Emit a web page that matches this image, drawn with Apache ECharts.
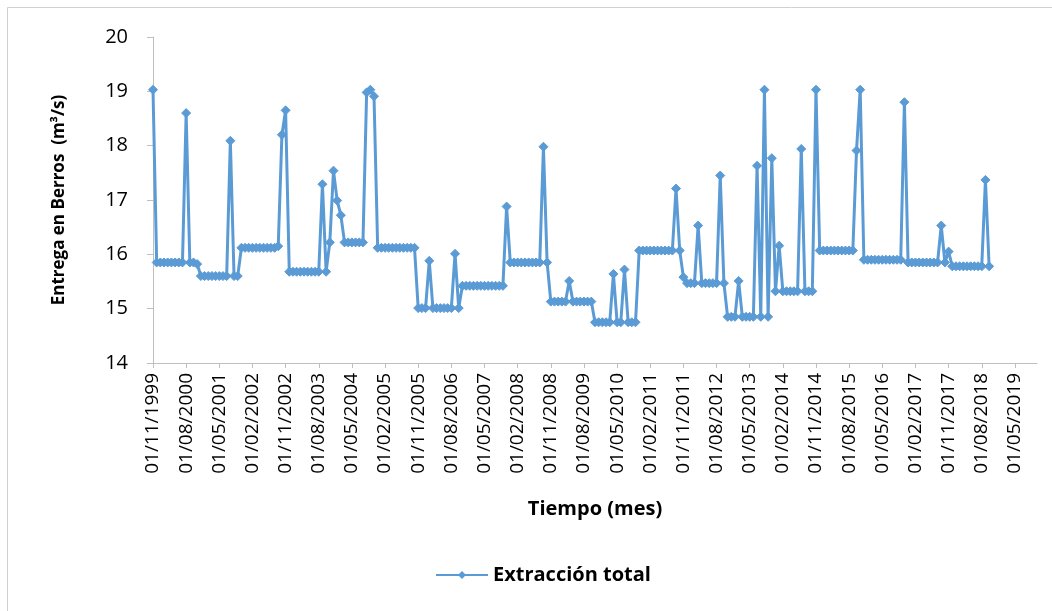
<!DOCTYPE html>
<html>
<head>
<meta charset="utf-8">
<title>Extracción total - Entrega en Berros</title>
<script src="https://cdn.jsdelivr.net/npm/echarts@6/dist/echarts.min.js"></script>
<style>
  html, body { margin: 0; padding: 0; background: #ffffff; }
  #chart { width: 1052px; height: 611px; }
</style>
</head>
<body>
<div id="chart"></div>
<script>
// Monthly axis: first month shown and number of months on the axis (Nov 1999 .. Nov 2019)
const primerMes = { anio: 1999, mes: 11 };
const mesesEje = 241;
// Every 9th month carries a tick and a date label
const pasoEtiquetas = 9;

// Y axis range (m3/s)
const ejeYMin = 14;
const ejeYMax = 20;
const ejeYPaso = 1;

// Extracción total, one value per month from Nov 1999; each row runs Nov..Oct
const extraccionTotal = [
  19.03, 15.85, 15.85, 15.85, 15.85, 15.85, 15.85, 15.85, 15.85, 18.60, 15.85, 15.85, // 1999-2000
  15.82, 15.60, 15.60, 15.60, 15.60, 15.60, 15.60, 15.60, 15.60, 18.09, 15.60, 15.60, // 2000-2001
  16.12, 16.12, 16.12, 16.12, 16.12, 16.12, 16.12, 16.12, 16.12, 16.12, 16.15, 18.20, // 2001-2002
  18.65, 15.68, 15.68, 15.68, 15.68, 15.68, 15.68, 15.68, 15.68, 15.68, 17.29, 15.68, // 2002-2003
  16.22, 17.54, 16.99, 16.72, 16.22, 16.22, 16.22, 16.22, 16.22, 16.22, 18.98, 19.03, // 2003-2004
  18.91, 16.12, 16.12, 16.12, 16.12, 16.12, 16.12, 16.12, 16.12, 16.12, 16.12, 16.12, // 2004-2005
  15.01, 15.01, 15.01, 15.88, 15.01, 15.01, 15.01, 15.01, 15.01, 15.01, 16.01, 15.01, // 2005-2006
  15.42, 15.42, 15.42, 15.42, 15.42, 15.42, 15.42, 15.42, 15.42, 15.42, 15.42, 15.42, // 2006-2007
  16.88, 15.85, 15.85, 15.85, 15.85, 15.85, 15.85, 15.85, 15.85, 15.85, 17.98, 15.85, // 2007-2008
  15.13, 15.13, 15.13, 15.13, 15.13, 15.51, 15.13, 15.13, 15.13, 15.13, 15.13, 15.13, // 2008-2009
  14.75, 14.75, 14.75, 14.75, 14.75, 15.64, 14.75, 14.75, 15.72, 14.75, 14.75, 14.75, // 2009-2010
  16.07, 16.07, 16.07, 16.07, 16.07, 16.07, 16.07, 16.07, 16.07, 16.07, 17.21, 16.07, // 2010-2011
  15.58, 15.47, 15.47, 15.47, 16.53, 15.47, 15.47, 15.47, 15.47, 15.47, 17.45, 15.47, // 2011-2012
  14.85, 14.85, 14.85, 15.51, 14.85, 14.85, 14.85, 14.85, 17.63, 14.85, 19.03, 14.85, // 2012-2013
  17.77, 15.32, 16.16, 15.32, 15.32, 15.32, 15.32, 15.32, 17.94, 15.32, 15.32, 15.32, // 2013-2014
  19.03, 16.07, 16.07, 16.07, 16.07, 16.07, 16.07, 16.07, 16.07, 16.07, 16.07, 17.91, // 2014-2015
  19.03, 15.90, 15.90, 15.90, 15.90, 15.90, 15.90, 15.90, 15.90, 15.90, 15.90, 15.90, // 2015-2016
  18.80, 15.85, 15.85, 15.85, 15.85, 15.85, 15.85, 15.85, 15.85, 15.85, 16.53, 15.85, // 2016-2017
  16.05, 15.78, 15.78, 15.78, 15.78, 15.78, 15.78, 15.78, 15.78, 15.78, 17.37, 15.78  // 2017-2018
];

// Month categories written as dd/mm/yyyy (first day of each month)
const categoriasMes = [];
for (let i = 0; i < mesesEje; i++) {
  const total = primerMes.mes - 1 + i;
  const anio = primerMes.anio + Math.floor(total / 12);
  const mes = (total % 12) + 1;
  categoriasMes.push('01/' + String(mes).padStart(2, '0') + '/' + anio);
}

const fuente = '"Open Sans", "Noto Sans", sans-serif';
const azul = '#5b9bd5';
const grisEje = '#bfbfbf';

const chart = echarts.init(document.getElementById('chart'), null, { renderer: 'canvas' });

chart.setOption({
  animation: false,
  backgroundColor: '#ffffff',
  textStyle: { fontFamily: fuente },
  graphic: [{
    type: 'rect',
    shape: { x: 7.5, y: 7.5, width: 1100, height: 700 },
    style: { fill: 'none', stroke: '#d0d0d0', lineWidth: 1 },
    silent: true
  }],
  grid: { left: 153, right: 15, top: 37, bottom: 248, containLabel: false },
  legend: {
    left: 430,
    top: 560,
    itemWidth: 52,
    itemHeight: 10,
    itemGap: 10,
    textStyle: { fontFamily: fuente, fontSize: 20, fontWeight: 'bold', color: '#000' },
    data: ['Extracción total']
  },
  xAxis: {
    type: 'category',
    data: categoriasMes,
    boundaryGap: false,
    axisLine: { lineStyle: { color: grisEje, width: 1 } },
    axisTick: { show: true, interval: pasoEtiquetas - 1, length: 5, lineStyle: { color: grisEje } },
    axisLabel: {
      interval: pasoEtiquetas - 1,
      rotate: 90,
      margin: 10,
      color: '#000',
      fontSize: 19,
      fontFamily: fuente
    },
    splitLine: { show: false },
    name: 'Tiempo (mes)',
    nameLocation: 'middle',
    nameGap: 136,
    nameTextStyle: { fontFamily: fuente, fontSize: 20, fontWeight: 'bold', color: '#000' }
  },
  yAxis: {
    type: 'value',
    min: ejeYMin,
    max: ejeYMax,
    interval: ejeYPaso,
    axisLine: { show: true, lineStyle: { color: grisEje, width: 1 } },
    axisTick: { show: true, length: 6, lineStyle: { color: grisEje } },
    axisLabel: { margin: 25, color: '#000', fontSize: 20, fontFamily: fuente },
    splitLine: { show: false },
    name: 'Entrega en Berros  (m³/s)',
    nameLocation: 'middle',
    nameRotate: 90,
    nameGap: 85,
    nameTextStyle: { fontFamily: fuente, fontSize: 17, fontWeight: 'bold', color: '#000' }
  },
  series: [{
    name: 'Extracción total',
    type: 'line',
    data: extraccionTotal,
    symbol: 'diamond',
    symbolSize: 9,
    showAllSymbol: true,
    lineStyle: { color: azul, width: 3 },
    itemStyle: { color: azul, borderColor: azul },
    emphasis: { disabled: true }
  }]
});
</script>
</body>
</html>
